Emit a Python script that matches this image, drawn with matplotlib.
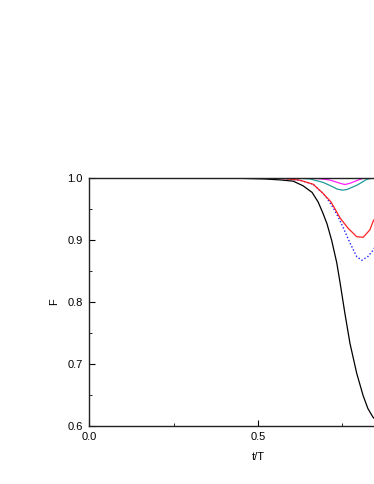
import matplotlib
matplotlib.use("Agg")
import matplotlib.pyplot as plt
from matplotlib.ticker import MultipleLocator

plt.rcParams['font.family'] = ['Liberation Sans', 'DejaVu Sans']
plt.rcParams['font.size'] = 8

# curves (t/T, F)
t_black = [0.0, 0.35, 0.45, 0.52, 0.565, 0.604, 0.633, 0.660, 0.678, 0.692, 0.704,
           0.718, 0.733, 0.743, 0.757, 0.772, 0.792, 0.811, 0.825, 0.840, 0.86]
f_black = [1.0, 0.9998, 0.999, 0.998, 0.9965, 0.9945, 0.9871, 0.9764, 0.9608, 0.9430, 0.9260,
           0.8990, 0.8630, 0.8302, 0.7818, 0.7334, 0.6850, 0.6490, 0.6283, 0.6144, 0.603]

t_blue = [0.0, 0.50, 0.58, 0.624, 0.663, 0.692, 0.704, 0.722, 0.737, 0.751, 0.772,
          0.792, 0.807, 0.825, 0.840, 0.86]
f_blue = [1.0, 1.0, 0.9985, 0.996, 0.9895, 0.975, 0.967, 0.952, 0.937, 0.921, 0.895,
          0.873, 0.867, 0.873, 0.883, 0.90]

t_red = [0.0, 0.50, 0.58, 0.624, 0.663, 0.692, 0.716, 0.743, 0.766, 0.792, 0.811,
         0.831, 0.840, 0.86]
f_red = [1.0, 1.0, 0.9985, 0.996, 0.9895, 0.975, 0.961, 0.935, 0.919, 0.905, 0.904,
         0.916, 0.929, 0.95]

t_cyan = [0.0, 0.60, 0.654, 0.692, 0.715, 0.734, 0.750, 0.763, 0.793, 0.822, 0.843, 0.86]
f_cyan = [1.0, 1.0, 0.998, 0.9926, 0.987, 0.9818, 0.9800, 0.981, 0.988, 0.9974, 1.0, 1.0]

t_mag = [0.0, 0.62, 0.680, 0.713, 0.743, 0.757, 0.772, 0.795, 0.811, 0.843, 0.86]
f_mag = [1.0, 1.0, 0.9985, 0.9963, 0.991, 0.989, 0.991, 0.996, 0.999, 1.0, 1.0]

fig = plt.figure(figsize=(3.74, 4.84), dpi=100)
ax = fig.add_axes([0.238, 0.1198, 0.9037, 0.513])

ax.plot(t_black, f_black, color='black', lw=0.9)
ax.plot(t_blue, f_blue, color='#2020ff', lw=1.0, ls=(0, (1, 1.5)))
ax.plot(t_red, f_red, color='#ff2020', lw=0.9)
ax.plot(t_cyan, f_cyan, color='#1f9a9a', lw=0.9)
ax.plot(t_mag, f_mag, color='#ff20ff', lw=0.9)

ax.set_xlim(0, 1.0)
ax.set_ylim(0.6, 1.0)
ax.set_xticks([0.0, 0.5])
ax.xaxis.set_minor_locator(MultipleLocator(0.25))
ax.yaxis.set_major_locator(MultipleLocator(0.1))
ax.yaxis.set_minor_locator(MultipleLocator(0.05))
ax.xaxis.set_major_formatter(plt.FormatStrFormatter('%.1f'))
ax.yaxis.set_major_formatter(plt.FormatStrFormatter('%.1f'))
ax.tick_params(which='major', direction='in', length=4, width=0.8, pad=4.5, top=False, right=False)
ax.tick_params(which='minor', direction='in', length=2.5, width=0.6, top=False, right=False)

for side in ['left', 'bottom', 'top']:
    ax.spines[side].set_linewidth(1.0)
    ax.spines[side].set_color('#222222')
ax.spines['right'].set_visible(False)

ax.set_xlabel('t/T', labelpad=7)
ax.set_ylabel('F', labelpad=6)

fig.savefig('out.png', dpi=100)
